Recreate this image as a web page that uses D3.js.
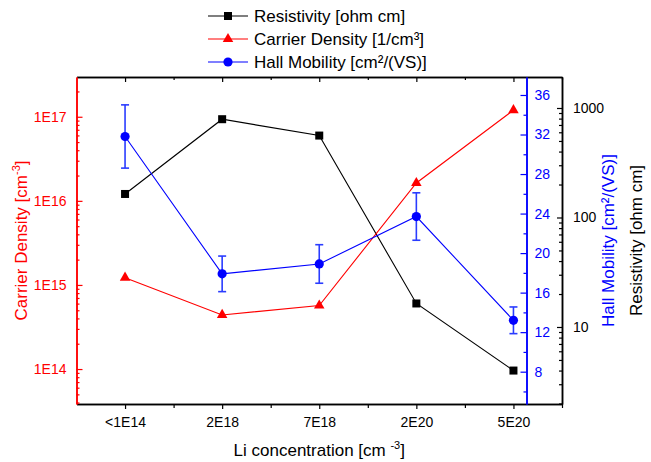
<!DOCTYPE html>
<html>
<head>
<meta charset="utf-8">
<script src="https://cdn.jsdelivr.net/npm/d3@7"></script>
<style>
  body { margin: 0; background: #fff; }
  text { font-family: Arial, "Liberation Sans", sans-serif; }
</style>
</head>
<body>
<div id="chart"></div>
<script>
// data
var categories = ['<1E14', '2E18', '7E18', '2E20', '5E20']
var resistivity = [164, 790, 560, 16.4, 4.0]
var carrierDensity = [1.22e15, 4.4e14, 5.7e14, 1.63e16, 1.2e17]
var hallMobility = [31.8, 17.9, 18.9, 23.7, 13.2]
var hallMobilityErr = [3.2, 1.8, 1.95, 2.4, 1.35]
var densityTicks = [1e14, 1e15, 1e16, 1e17]
var mobilityTicks = [8, 12, 16, 20, 24, 28, 32, 36]
var resistivityTicks = [10, 100, 1000]

var width = 651
var height = 462
var plotLeft = 76.5, plotRight = 562, plotTop = 77, plotBottom = 404
var blueAxisX = 526.5

var svg = d3.select('#chart')
	.append('svg')
	.attr('width', width)
	.attr('height', height)

var x = d3.scalePoint()
	.domain(categories)
	.range([plotLeft, plotRight])
	.padding(0.5)

var xLin = d3.scaleLinear()
	.domain([-0.5, categories.length - 0.5])
	.range([plotLeft, plotRight])

var yDensity = d3.scaleLog()
	.domain([3.84e13, 2.97e17])
	.range([plotBottom, plotTop])

var yMobility = d3.scaleLinear()
	.domain([4.73, 37.82])
	.range([plotBottom, plotTop])

var yRes = d3.scaleLog()
	.domain([1.98, 1919])
	.range([plotBottom, plotTop])

function logMinor(scale) {
	var d = scale.domain()
	var out = []
	for (var e = Math.floor(Math.log10(d[0])); e <= Math.ceil(Math.log10(d[1])); e++) {
		for (var m = 2; m <= 9; m++) {
			var v = m * Math.pow(10, e)
			if (v >= d[0] && v <= d[1]) out.push(v)
		}
	}
	return out
}

function styleAxis(g, color) {
	g.selectAll('path').attr('stroke', color).attr('stroke-width', 1.5)
	g.selectAll('line').attr('stroke', color).attr('stroke-width', 1.2)
	g.selectAll('text').attr('fill', color).style('font-size', '14px')
}

// top axis (inward ticks, no labels)
var gTop = svg.append('g').attr('transform', 'translate(0,' + plotTop + ')')
	.call(d3.axisTop(x).tickSize(-5).tickSizeOuter(0).tickFormat(''))
gTop.append('g').call(d3.axisTop(xLin).tickValues(d3.range(0.5, categories.length, 1)).tickSize(-3).tickSizeOuter(0).tickFormat(''))
styleAxis(gTop, '#000')

// bottom axis
var gBottom = svg.append('g').attr('transform', 'translate(0,' + plotBottom + ')')
	.call(d3.axisBottom(x).tickSize(5).tickPadding(8).tickSizeOuter(0))
gBottom.append('g').call(d3.axisBottom(xLin).tickValues(d3.range(0.5, categories.length, 1)).tickSize(4).tickSizeOuter(0).tickFormat(''))
styleAxis(gBottom, '#000')

// left axis: carrier density
var gLeft = svg.append('g').attr('transform', 'translate(' + plotLeft + ',0)')
	.call(d3.axisLeft(yDensity).tickValues(densityTicks).tickSize(-6).tickPadding(10).tickSizeOuter(0)
		.tickFormat(d => '1E' + Math.round(Math.log10(d))))
gLeft.append('g').call(d3.axisLeft(yDensity).tickValues(logMinor(yDensity)).tickSize(-3).tickSizeOuter(0).tickFormat(''))
styleAxis(gLeft, '#ff0000')

// blue axis: hall mobility
var gBlue = svg.append('g').attr('transform', 'translate(' + blueAxisX + ',0)')
	.call(d3.axisRight(yMobility).tickValues(mobilityTicks).tickSize(-6).tickPadding(8).tickSizeOuter(0))
gBlue.append('g').call(d3.axisRight(yMobility).tickValues(d3.range(6, 38, 4)).tickSize(-3).tickSizeOuter(0).tickFormat(''))
styleAxis(gBlue, '#0000ff')

// right axis: resistivity
var gRes = svg.append('g').attr('transform', 'translate(' + plotRight + ',0)')
	.call(d3.axisRight(yRes).tickValues(resistivityTicks).tickSize(-5).tickPadding(11).tickSizeOuter(0)
		.tickFormat(d3.format('d')))
gRes.append('g').call(d3.axisRight(yRes).tickValues(logMinor(yRes)).tickSize(-3).tickSizeOuter(0).tickFormat(''))
styleAxis(gRes, '#000')

// axis titles
svg.append('text')
	.attr('x', (plotLeft + plotRight) / 2)
	.attr('y', 456)
	.attr('text-anchor', 'middle')
	.style('font-size', '17px')
	.html('Li concentration [cm <tspan dy="-7" font-size="11px">-3</tspan><tspan dy="7">]</tspan>')

svg.append('text')
	.attr('transform', 'translate(27,' + ((plotTop + plotBottom) / 2) + ') rotate(-90)')
	.attr('text-anchor', 'middle')
	.attr('fill', '#ff0000')
	.style('font-size', '17px')
	.html('Carrier Density [cm<tspan dy="-7" font-size="11px">-3</tspan><tspan dy="7">]</tspan>')

svg.append('text')
	.attr('transform', 'translate(614,' + ((plotTop + plotBottom) / 2) + ') rotate(-90)')
	.attr('text-anchor', 'middle')
	.attr('fill', '#0000ff')
	.style('font-size', '17px')
	.text('Hall Mobility [cm²/(VS)]')

svg.append('text')
	.attr('transform', 'translate(642,' + ((plotTop + plotBottom) / 2) + ') rotate(-90)')
	.attr('text-anchor', 'middle')
	.attr('fill', '#000')
	.style('font-size', '17px')
	.text('Resistivity [ohm cm]')

// lines
var series = [
	{values: resistivity, y: yRes, color: '#000'},
	{values: carrierDensity, y: yDensity, color: '#ff0000'},
	{values: hallMobility, y: yMobility, color: '#0000ff'}
]
series.forEach(s => {
	svg.append('path')
		.datum(s.values)
		.attr('fill', 'none')
		.attr('stroke', s.color)
		.attr('stroke-width', 1.1)
		.attr('d', d3.line().x((d, i) => x(categories[i])).y(d => s.y(d)))
})

// error bars for hall mobility
var errG = svg.append('g')
	.attr('stroke', '#2a3cff')
	.attr('stroke-width', 1.6)
hallMobility.forEach((v, i) => {
	var cx = x(categories[i])
	var y1 = yMobility(v + hallMobilityErr[i])
	var y2 = yMobility(v - hallMobilityErr[i])
	errG.append('line').attr('x1', cx).attr('x2', cx).attr('y1', y1).attr('y2', y2)
	errG.append('line').attr('x1', cx - 4).attr('x2', cx + 4).attr('y1', y1).attr('y2', y1)
	errG.append('line').attr('x1', cx - 4).attr('x2', cx + 4).attr('y1', y2).attr('y2', y2)
})

// markers
svg.append('g').selectAll('rect')
	.data(resistivity)
	.enter()
	.append('rect')
	.attr('x', (d, i) => x(categories[i]) - 4)
	.attr('y', d => yRes(d) - 4)
	.attr('width', 8)
	.attr('height', 8)
	.attr('fill', '#000')

svg.append('g').selectAll('path')
	.data(carrierDensity)
	.enter()
	.append('path')
	.attr('d', d3.symbol().type(d3.symbolTriangle).size(48))
	.attr('transform', (d, i) => 'translate(' + x(categories[i]) + ',' + yDensity(d) + ')')
	.attr('fill', '#ff0000')

svg.append('g').selectAll('circle')
	.data(hallMobility)
	.enter()
	.append('circle')
	.attr('cx', (d, i) => x(categories[i]))
	.attr('cy', d => yMobility(d))
	.attr('r', 4.6)
	.attr('fill', '#0000ff')

// legend
var legendItems = [
	{label: 'Resistivity [ohm cm]', color: '#000', shape: 'square'},
	{label: 'Carrier Density [1/cm³]', color: '#ff0000', shape: 'triangle'},
	{label: 'Hall Mobility [cm²/(VS)]', color: '#0000ff', shape: 'circle'}
]
var legend = svg.append('g')
legendItems.forEach((item, i) => {
	var ly = 16 + i * 23
	legend.append('line')
		.attr('x1', 208).attr('x2', 248)
		.attr('y1', ly).attr('y2', ly)
		.attr('stroke', item.color)
		.attr('stroke-width', 1.1)
	if (item.shape === 'square') {
		legend.append('rect').attr('x', 224).attr('y', ly - 4).attr('width', 8).attr('height', 8).attr('fill', item.color)
	} else if (item.shape === 'triangle') {
		legend.append('path').attr('d', d3.symbol().type(d3.symbolTriangle).size(48))
			.attr('transform', 'translate(228,' + ly + ')').attr('fill', item.color)
	} else {
		legend.append('circle').attr('cx', 228).attr('cy', ly).attr('r', 4.6).attr('fill', item.color)
	}
	legend.append('text')
		.attr('x', 254)
		.attr('y', ly + 6)
		.style('font-size', '17px')
		.text(item.label)
})
</script>
</body>
</html>
